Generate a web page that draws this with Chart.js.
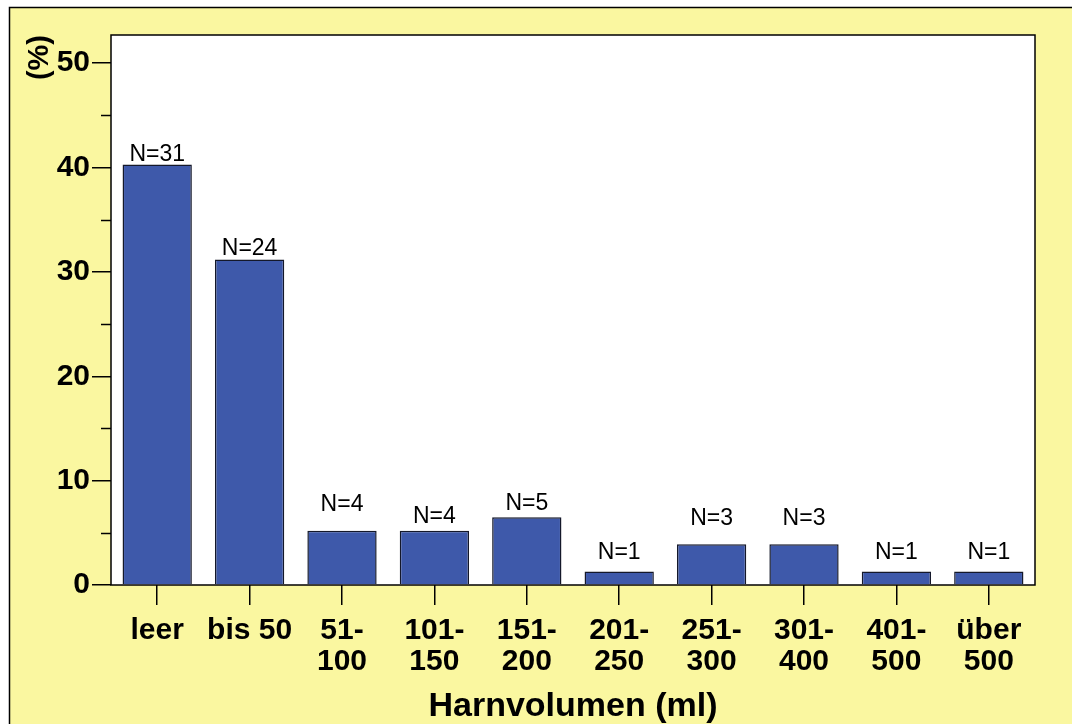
<!DOCTYPE html>
<html>
<head>
<meta charset="utf-8">
<script src="https://cdn.jsdelivr.net/npm/chart.js@4"></script>
<style>
  html, body { margin: 0; padding: 0; background: #fff; }
  #wrap { width: 1072px; height: 724px; }
</style>
</head>
<body>
<div id="wrap"><canvas id="harnChart" width="1072" height="724"></canvas></div>
<script>
// data
const categories = ['leer', 'bis 50', ['51-', '100'], ['101-', '150'], ['151-', '200'],
  ['201-', '250'], ['251-', '300'], ['301-', '400'], ['401-', '500'], ['über', '500']];
const percent = [40.3, 31.2, 5.2, 5.2, 6.5, 1.3, 3.9, 3.9, 1.3, 1.3];
const counts = [31, 24, 4, 4, 5, 1, 3, 3, 1, 1];
const yMajorTicks = [0, 10, 20, 30, 40, 50];
const yMinorTicks = [5, 15, 25, 35, 45];

const FONT = '"Liberation Sans", Arial, sans-serif';
// gap (px) between bar top and the N= label baseline, as placed in the original
const labelLift = [3, 4, 20, 8, 7, 12, 19, 19, 12, 12];

// yellow frame + white plot box + minor ticks + N labels
const decor = {
  id: 'decor',
  beforeDraw(chart) {
    const c = chart.ctx, a = chart.chartArea;
    c.save();
    c.fillStyle = '#FAF7A0';
    c.fillRect(9, 7, chart.width - 9, chart.height - 7);
    c.strokeStyle = '#000';
    c.lineWidth = 1.5;
    c.beginPath();
    c.moveTo(9.5, chart.height); c.lineTo(9.5, 7.5); c.lineTo(chart.width, 7.5);
    c.stroke();
    c.fillStyle = '#fff';
    c.fillRect(a.left, a.top, a.right - a.left, a.bottom - a.top);
    c.restore();
  },
  afterDatasetsDraw(chart) {
    const c = chart.ctx, a = chart.chartArea;
    const y = chart.scales.y;
    c.save();
    c.strokeStyle = '#000';
    c.lineWidth = 1.5;
    c.strokeRect(a.left, a.top, a.right - a.left, a.bottom - a.top);
    yMinorTicks.forEach(v => {
      const py = Math.round(y.getPixelForValue(v)) + 0.5;
      c.beginPath(); c.moveTo(a.left - 10, py); c.lineTo(a.left, py); c.stroke();
    });
    c.fillStyle = '#000';
    c.font = '23px ' + FONT;
    c.textAlign = 'center';
    c.textBaseline = 'alphabetic';
    chart.getDatasetMeta(0).data.forEach((bar, i) => {
      c.fillText('N=' + counts[i], bar.x, bar.y - labelLift[i]);
    });
    c.restore();
  }
};

new Chart(document.getElementById('harnChart'), {
  type: 'bar',
  data: {
    labels: categories,
    datasets: [{
      data: percent,
      backgroundColor: '#3E59AA',
      borderColor: '#14182A',
      borderWidth: 1.5,
      categoryPercentage: 0.75,
      barPercentage: 1.0
    }]
  },
  options: {
    responsive: false,
    animation: false,
    layout: { padding: { left: 0, right: 37, top: 35, bottom: 0 } },
    plugins: { legend: { display: false }, tooltip: { enabled: false } },
    scales: {
      x: {
        offset: true,
        grid: { offset: false, drawOnChartArea: false, drawTicks: true, tickLength: 20, color: '#000', lineWidth: 1.5 },
        border: { display: false },
        ticks: { color: '#000', font: { family: FONT, size: 30, weight: 'bold', lineHeight: 1.03 }, padding: 10, maxRotation: 0, autoSkip: false },
        title: { display: true, text: 'Harnvolumen (ml)', color: '#000', font: { family: FONT, size: 34, weight: 'bold', lineHeight: 1.05 }, padding: { top: 0, bottom: 0 } },
        afterFit(s) { s.height = 139; }
      },
      y: {
        min: 0,
        max: 52.7,
        grid: { drawOnChartArea: false, drawTicks: true, tickLength: 19, color: '#000', lineWidth: 1.5 },
        border: { display: false },
        afterBuildTicks(s) { s.ticks = yMajorTicks.map(v => ({ value: v })); },
        ticks: { color: '#000', font: { family: FONT, size: 30, weight: 'bold' }, padding: 2 },
        title: { display: true, text: '(%)', align: 'end', color: '#000', font: { family: FONT, size: 29, weight: 'bold', lineHeight: 1.1 }, padding: { top: 24, bottom: 0 } },
        afterFit(s) { s.width = 111; }
      }
    }
  },
  plugins: [decor]
});
</script>
</body>
</html>
